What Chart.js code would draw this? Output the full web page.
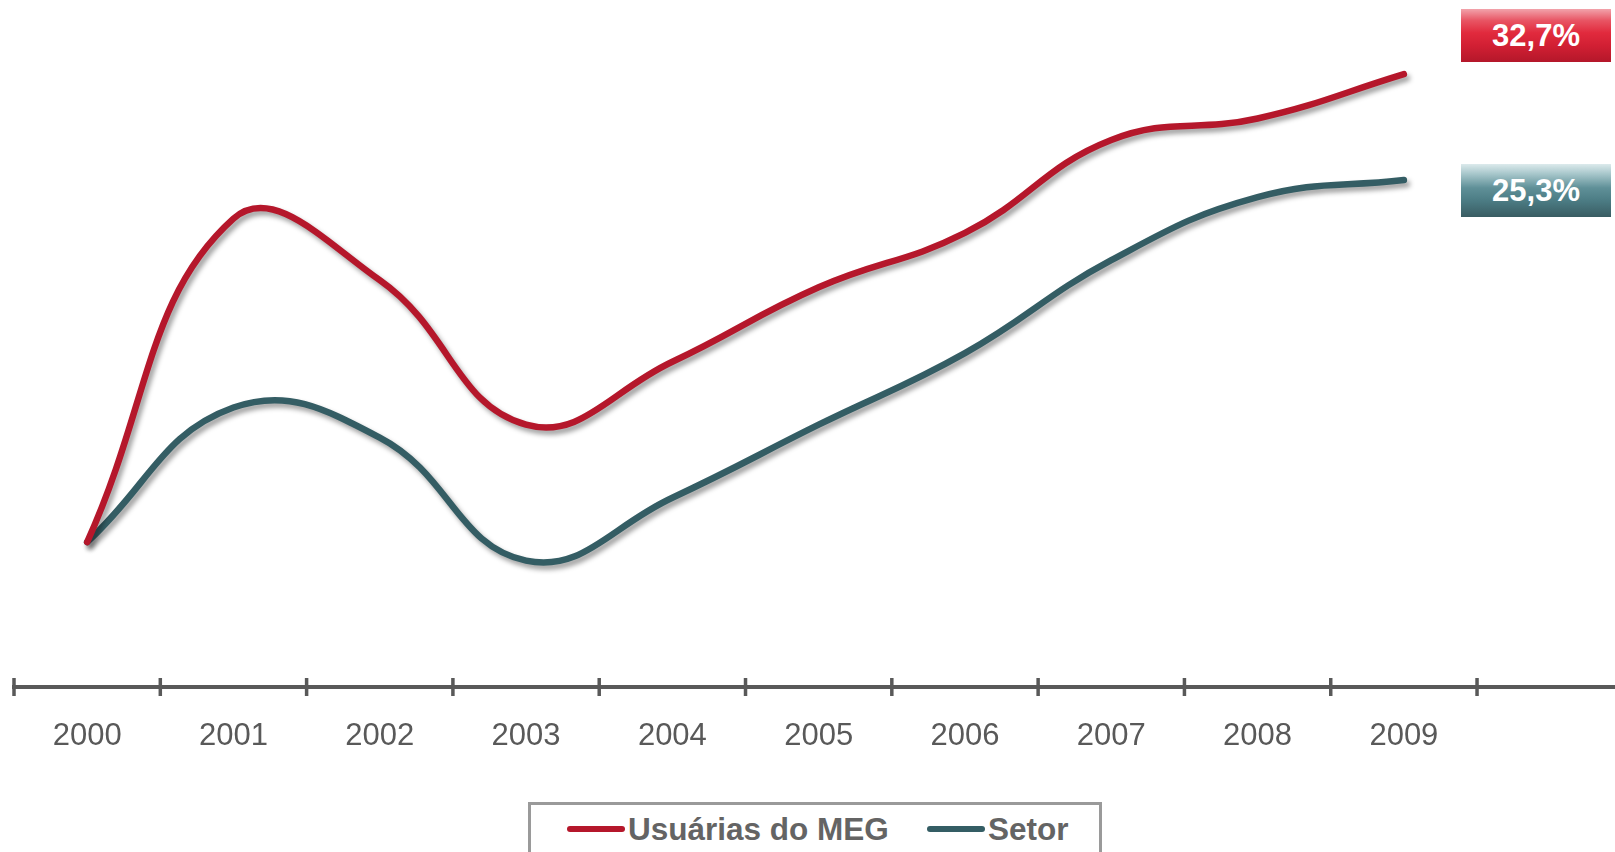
<!DOCTYPE html>
<html>
<head>
<meta charset="utf-8">
<script src="https://cdn.jsdelivr.net/npm/chart.js@4.4.1/dist/chart.umd.min.js"></script>
<style>
  html, body { margin: 0; padding: 0; background: #ffffff; overflow: hidden; }
  #wrap { position: relative; width: 1615px; height: 852px; font-family: "Liberation Sans", Arial, sans-serif; }
  canvas { position: absolute; left: 0; top: 0; }
  .tag { position: absolute; left: 1461px; width: 150px; height: 53px; color: #fff; font-weight: bold;
         font-size: 31px; line-height: 53px; text-align: center; }
  #tagRed { top: 9px; background: linear-gradient(to bottom, #f2a3ab 0%, #e85463 22%, #e12a3d 45%, #d11f33 70%, #b4172a 100%); }
  #tagTeal { top: 164px; background: linear-gradient(to bottom, #dceaec 0%, #a9c8cc 18%, #5f9098 45%, #4b7b83 70%, #395c62 100%); }
  #legend { position: absolute; left: 528px; top: 802px; width: 574px; height: 80px; border: 3.5px solid #9a9a9a;
            box-sizing: border-box; background: #fff; }
  .li { position: absolute; top: 4px; height: 40px; display: flex; align-items: center; font-weight: bold;
        font-size: 31.5px; color: #646464; }
  .sw { display: inline-block; width: 58px; height: 6px; border-radius: 3px; margin-right: 3px; }
</style>
</head>
<body>
<div id="wrap">
  <canvas id="c" width="1615" height="852"></canvas>
  <div class="tag" id="tagRed"></div>
  <div class="tag" id="tagTeal"></div>
  <div id="legend"></div>
</div>
<script>
// ---- data ----
const years = ['2000','2001','2002','2003','2004','2005','2006','2007','2008','2009'];
const seriesNames = ['Usuárias do MEG', 'Setor'];
const megValues = [0, 22.6, 18.3, 8.2, 12.6, 17.8, 21.6, 28.1, 29.6, 32.7];
const setorValues = [0, 9.4, 7.3, -1.3, 3.1, 8.2, 13.2, 19.7, 24.1, 25.3];
const endLabels = ['32,7%', '25,3%'];
const colors = ['#b5172b', '#345d64'];

document.getElementById('tagRed').textContent = endLabels[0];
document.getElementById('tagTeal').textContent = endLabels[1];

const legendEl = document.getElementById('legend');
const legendX = [36, 396];
seriesNames.forEach((n, i) => {
  const d = document.createElement('div');
  d.className = 'li';
  d.style.left = legendX[i] + 'px';
  const s = document.createElement('span');
  s.className = 'sw';
  s.style.background = colors[i];
  d.appendChild(s);
  d.appendChild(document.createTextNode(n));
  legendEl.appendChild(d);
});

const toPoints = arr => arr.map((v, i) => ({ x: i, y: v }));

const shadowPlugin = {
  id: 'shadow',
  beforeDatasetDraw(chart) {
    const ctx = chart.ctx;
    ctx.save();
    ctx.shadowColor = 'rgba(0,0,0,0.38)';
    ctx.shadowBlur = 5;
    ctx.shadowOffsetX = 3;
    ctx.shadowOffsetY = 4;
  },
  afterDatasetDraw(chart) { chart.ctx.restore(); }
};

const tickPlugin = {
  id: 'tickMarks',
  afterDraw(chart) {
    const x = chart.scales.x;
    const ctx = chart.ctx;
    const yAxis = chart.chartArea.bottom;
    ctx.save();
    ctx.strokeStyle = '#595959';
    ctx.lineWidth = 3.5;
    x.ticks.forEach(t => {
      if (Number.isInteger(t.value)) return;
      const px = x.getPixelForValue(t.value);
      ctx.beginPath();
      ctx.moveTo(px, yAxis - 9);
      ctx.lineTo(px, yAxis + 9);
      ctx.stroke();
    });
    ctx.restore();
  }
};

new Chart(document.getElementById('c'), {
  type: 'line',
  data: {
    datasets: [
      { label: seriesNames[0], data: toPoints(megValues), borderColor: colors[0] },
      { label: seriesNames[1], data: toPoints(setorValues), borderColor: colors[1] }
    ]
  },
  options: {
    responsive: false,
    animation: false,
    devicePixelRatio: 1,
    layout: { padding: { left: 14, right: 0, top: 0, bottom: 0 } },
    elements: {
      line: { borderWidth: 6.5, tension: 0.43, borderCapStyle: 'round', borderJoinStyle: 'round', fill: false },
      point: { radius: 0, hoverRadius: 0 }
    },
    plugins: { legend: { display: false }, tooltip: { enabled: false } },
    scales: {
      y: { display: false, min: -10.13, max: 37.88 },
      x: {
        type: 'linear',
        position: 'bottom',
        min: -0.5,
        max: 10.443,
        afterFit(s) { s.height = 165; s.paddingLeft = 0; s.paddingRight = 0; },
        afterBuildTicks(s) {
          const t = [];
          for (let i = 0; i < years.length; i++) { t.push({ value: i - 0.5 }); t.push({ value: i }); }
          t.push({ value: years.length - 0.5 });
          s.ticks = t;
        },
        grid: { display: false, drawTicks: false },
        border: { display: true, color: '#595959', width: 4 },
        ticks: {
          autoSkip: false,
          maxRotation: 0,
          padding: 31,
          color: '#595959',
          font: { family: '"Liberation Sans", Arial, sans-serif', size: 31 },
          callback: v => Number.isInteger(v) ? years[v] : ''
        }
      }
    }
  },
  plugins: [shadowPlugin, tickPlugin]
});
</script>
</body>
</html>
